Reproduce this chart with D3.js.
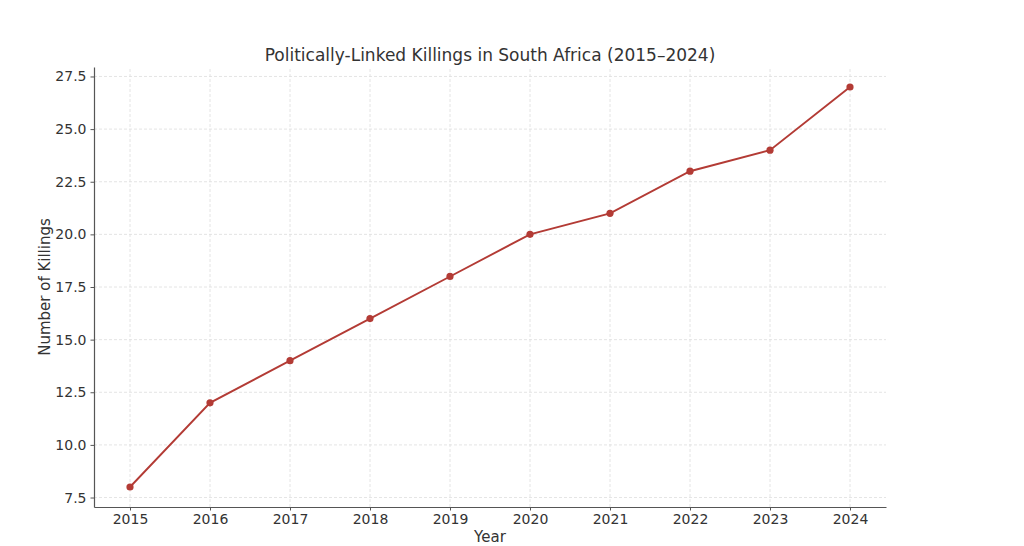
<!DOCTYPE html>
<html>
<head>
<meta charset="utf-8">
<script src="https://cdn.jsdelivr.net/npm/d3@7"></script>
<style>
  body { margin: 0; background: #fff; }
  text { font-family: "DejaVu Sans", sans-serif; fill: #333; }
</style>
</head>
<body>
<div class="chart"></div>
<script>
// data
var years = [2015, 2016, 2017, 2018, 2019, 2020, 2021, 2022, 2023, 2024];
var killings = [8, 12, 14, 16, 18, 20, 21, 23, 24, 27];
var yTicks = [7.5, 10, 12.5, 15, 17.5, 20, 22.5, 25, 27.5];

var W = 1024, H = 546;
var margin = {left: 94, right: 138, top: 67, bottom: 39};

var svg = d3.select(".chart").append("svg")
  .attr("width", W)
  .attr("height", H);

// matplotlib style 5% padding around data
var xPad = (2024 - 2015) * 0.05;
var yPad = (27 - 8) * 0.05;
var x = d3.scaleLinear()
  .domain([2015 - xPad, 2024 + xPad])
  .range([margin.left, W - margin.right]);
var y = d3.scaleLinear()
  .domain([8 - yPad, 27 + yPad])
  .range([H - margin.bottom, margin.top]);

// grid
var grid = svg.append("g").attr("class", "grid");
grid.selectAll(".gx").data(years).enter().append("line")
  .attr("x1", function(d) { return x(d); })
  .attr("x2", function(d) { return x(d); })
  .attr("y1", y.range()[0])
  .attr("y2", y.range()[1])
  .attr("stroke", "#ddd")
  .attr("stroke-width", 0.8)
  .attr("stroke-dasharray", "3,2");
grid.selectAll(".gy").data(yTicks).enter().append("line")
  .attr("y1", function(d) { return y(d); })
  .attr("y2", function(d) { return y(d); })
  .attr("x1", x.range()[0])
  .attr("x2", x.range()[1])
  .attr("stroke", "#ddd")
  .attr("stroke-width", 0.8)
  .attr("stroke-dasharray", "3,2");

// axes
var xAxis = svg.append("g")
  .attr("transform", "translate(0," + y.range()[0] + ")")
  .call(d3.axisBottom(x).tickValues(years).tickFormat(d3.format("d"))
    .tickSizeInner(3.5).tickSizeOuter(0).tickPadding(4));
var yAxis = svg.append("g")
  .attr("transform", "translate(" + x.range()[0] + ",0)")
  .call(d3.axisLeft(y).tickValues(yTicks).tickFormat(d3.format(".1f"))
    .tickSizeInner(3.5).tickSizeOuter(0).tickPadding(4));

[xAxis, yAxis].forEach(function(ax) {
  ax.select(".domain").attr("stroke", "#555").attr("stroke-width", 1.2);
  ax.selectAll(".tick line").attr("stroke", "#555");
  ax.selectAll(".tick text")
    .style("font-family", "DejaVu Sans, sans-serif")
    .style("font-size", "14px")
    .style("fill", "#333");
});

// line + markers
var line = d3.line()
  .x(function(d, i) { return x(years[i]); })
  .y(function(d) { return y(d); });

svg.append("path")
  .datum(killings)
  .attr("d", line)
  .attr("fill", "none")
  .attr("stroke", "#b33b35")
  .attr("stroke-width", 1.9);

svg.selectAll(".dot").data(killings).enter().append("circle")
  .attr("cx", function(d, i) { return x(years[i]); })
  .attr("cy", function(d) { return y(d); })
  .attr("r", 3.6)
  .attr("fill", "#b33b35");

// labels
svg.append("text")
  .attr("x", (x.range()[0] + x.range()[1]) / 2)
  .attr("y", 61)
  .attr("text-anchor", "middle")
  .style("font-size", "17px")
  .text("Politically-Linked Killings in South Africa (2015–2024)");

svg.append("text")
  .attr("x", (x.range()[0] + x.range()[1]) / 2)
  .attr("y", 542)
  .attr("text-anchor", "middle")
  .style("font-size", "15px")
  .text("Year");

svg.append("text")
  .attr("transform", "translate(50," + (y.range()[0] + y.range()[1]) / 2 + ") rotate(-90)")
  .attr("text-anchor", "middle")
  .style("font-size", "15px")
  .text("Number of Killings");
</script>
</body>
</html>
